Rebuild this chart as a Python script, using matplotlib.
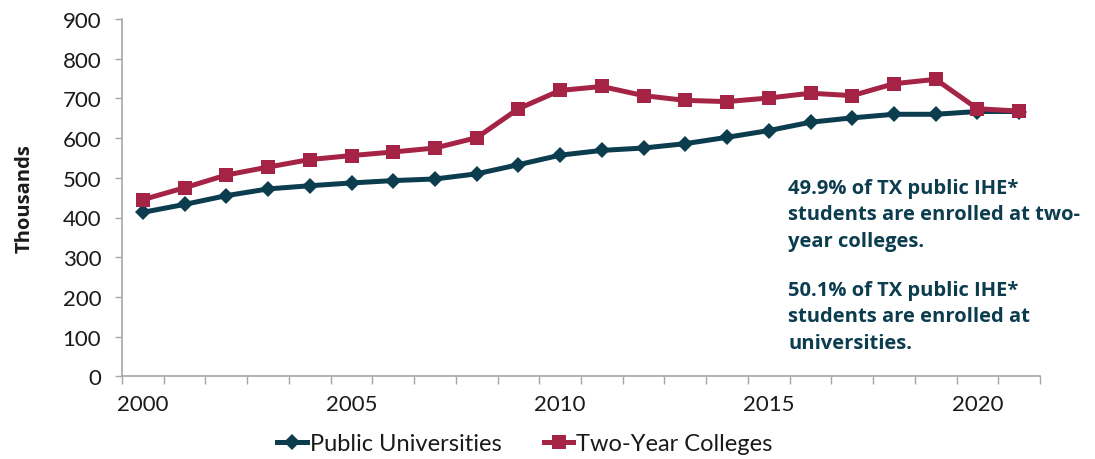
import matplotlib
matplotlib.use("Agg")
import matplotlib.pyplot as plt
import numpy as np

years = list(range(2000, 2022))
public_universities = [413, 433, 455, 472, 480, 487, 493, 497, 510, 533, 557, 569, 575, 586, 602, 619,
                       640, 651, 660, 660, 667, 667]
two_year_colleges = [445, 475, 507, 527, 546, 556, 565, 575, 601, 674, 720, 730, 707, 695, 692, 701,
                     713, 707, 737, 748, 674, 668]
xtick_labels = ["2000", "2005", "2010", "2015", "2020"]
yticks = [0, 100, 200, 300, 400, 500, 600, 700, 800, 900]

teal = "#0b3d4f"
crimson = "#a52345"
spine_gray = "#a6a6a6"

plt.rcParams['font.family'] = ['Lato', 'DejaVu Sans']

fig = plt.figure(figsize=(10.95, 4.6), dpi=100)
ax = fig.add_axes([122/1095, 1-377.3/460, (1040-122)/1095, (377.3-20)/460])

ax.plot(years, public_universities, color=teal, lw=3.6, marker='D', ms=8.5, mew=0,
        label="Public Universities", zorder=3)
ax.plot(years, two_year_colleges, color=crimson, lw=3.6, marker='s', ms=10.5, mew=0,
        label="Two-Year Colleges", zorder=4)

ax.set_xlim(1999.5, 2021.5)
ax.set_ylim(0, 900)
ax.set_yticks(yticks)
ax.set_yticklabels([str(v) for v in yticks])
ax.set_xticks([int(s) for s in xtick_labels])
ax.set_xticklabels(xtick_labels)
ax.set_xticks(np.arange(1999.5, 2022, 1.0), minor=True)

for s in ['top', 'right']:
    ax.spines[s].set_visible(False)
for s in ['left', 'bottom']:
    ax.spines[s].set_color(spine_gray)
    ax.spines[s].set_linewidth(1.2)

ax.tick_params(axis='y', direction='out', length=5, width=1.0, color=spine_gray,
               labelsize=16, labelcolor='#1a1a1a', pad=10)
ax.tick_params(axis='x', which='major', length=0, labelsize=16, labelcolor='#1a1a1a', pad=13)
ax.tick_params(axis='x', which='minor', direction='out', length=5.5, width=1.0, color=spine_gray)

ax.set_ylabel("Thousands", fontsize=14.5, fontweight='bold', color='#1a1a1a', labelpad=20,
              family=['Open Sans', 'DejaVu Sans'])

txt1 = "49.9% of TX public IHE*\nstudents are enrolled at two-\nyear colleges."
txt2 = "50.1% of TX public IHE*\nstudents are enrolled at\nuniversities."
for y0, t in [(179, txt1), (281, txt2)]:
    fig.text(788/1095, 1-y0/460, t, fontsize=14.5, fontweight='bold', color=teal,
             va='top', ha='left', linespacing=1.42, family=['Open Sans', 'DejaVu Sans'])

leg = ax.legend(loc='center', bbox_to_anchor=(525/1095, 1-445/460), bbox_transform=fig.transFigure,
                ncol=2, frameon=False, fontsize=17, handlelength=1.25, handletextpad=0.12,
                columnspacing=1.8, borderaxespad=0)
for t in leg.get_texts():
    t.set_color('#1a1a1a')

fig.savefig("out.png", dpi=100)
